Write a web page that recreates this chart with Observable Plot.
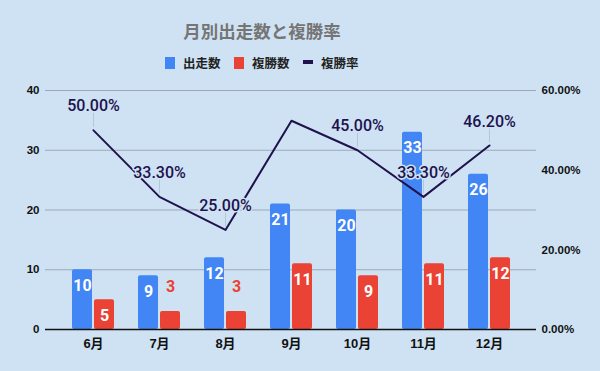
<!DOCTYPE html>
<html><head><meta charset="utf-8">
<script src="https://cdn.jsdelivr.net/npm/d3@7"></script>
<script src="https://cdn.jsdelivr.net/npm/@observablehq/plot@0.6"></script>
<style>
html,body{margin:0;padding:0;background:#cfe2f3;}
#wrap{width:600px;height:371px;background:#cfe2f3;position:relative;overflow:hidden;font-family:Roboto,"Noto Sans CJK JP",sans-serif;}
#head{position:relative;height:80px;}
#title{position:absolute;left:0;width:524px;top:19px;text-align:center;font-size:17.5px;font-weight:bold;color:#757575;font-family:"Noto Sans CJK JP",sans-serif;line-height:24px;}
.sw{position:absolute;}
.lt{position:absolute;top:54px;font-size:12.5px;font-weight:bold;color:#222;font-family:"Noto Sans CJK JP",sans-serif;line-height:18px;}
#chart{position:absolute;left:0;top:80px;}
</style></head>
<body>
<div id="wrap">
<div id="head">
<div id="title">月別出走数と複勝率</div>
<div class="sw" style="left:165px;top:57px;width:10px;height:12px;background:#4285f4"></div>
<div class="lt" style="left:183px">出走数</div>
<div class="sw" style="left:234px;top:57px;width:10px;height:12px;background:#ea4335"></div>
<div class="lt" style="left:252px">複勝数</div>
<div class="sw" style="left:303px;top:60px;width:10px;height:4px;background:#20124d"></div>
<div class="lt" style="left:321px">複勝率</div>
</div>
<div id="chart"></div>
</div>
<script>
const months = ["6月","7月","8月","9月","10月","11月","12月"];
const starts = [10, 9, 12, 21, 20, 33, 26];
const places = [5, 3, 3, 11, 9, 11, 12];
const rates = [50.0, 33.3, 25.0, 52.4, 45.0, 33.3, 46.2];
const rateLabelShown = [true, true, true, false, true, true, true];
const leftTicks = [0, 10, 20, 30, 40];
const rightTicks = [0, 20, 40, 60];

const rows = months.map((m, i) => ({month: m, starts: starts[i], places: places[i], rate: rates[i], show: rateLabelShown[i]}));
const toLeft = r => r / 60 * 40;

const font = "Roboto, 'Noto Sans CJK JP', sans-serif";
const axisFont = "'Liberation Sans', Arial, 'Noto Sans CJK JP', sans-serif";
const chart = Plot.plot({
  width: 600, height: 291,
  marginTop: 10, marginBottom: 42, marginLeft: 45, marginRight: 64,
  style: {background: "transparent", fontFamily: axisFont, overflow: "visible"},
  x: {domain: months, padding: 0.37, axis: null},
  y: {domain: [0, 40], axis: null},
  marks: [
    Plot.gridY(leftTicks.filter(d => d > 0), {stroke: "#9aa8ba", strokeOpacity: 1}),
    Plot.barY(rows, {x: "month", y: "starts", fill: "#4285f4", insetRight: 22, rx: 2}),
    Plot.barY(rows, {x: "month", y: "places", fill: "#ea4335", insetLeft: 22, rx: 2}),
    Plot.ruleY([0], {stroke: "#111", strokeWidth: 1.5}),
    Plot.text(rows, {x: "month", y: "starts", text: d => String(d.starts), dx: -11, dy: 16, fill: "white", fontSize: 16, fontWeight: "bold", fontFamily: font}),
    Plot.text(rows.filter(d => d.places >= 4), {x: "month", y: "places", text: d => String(d.places), dx: 11, dy: 16, fill: "white", fontSize: 16, fontWeight: "bold", fontFamily: font}),
    Plot.text(rows.filter(d => d.places < 4), {x: "month", y: "places", text: d => String(d.places), dx: 11, dy: -25, fill: "#ea4335", fontSize: 16, fontWeight: "bold", fontFamily: font}),
    Plot.line(rows, {x: "month", y: d => toLeft(d.rate), stroke: "#20124d", strokeWidth: 2}),
    Plot.ruleX(rows.filter(d => d.show), {x: "month", y1: d => toLeft(d.rate), y2: d => toLeft(d.rate), insetTop: -17, insetBottom: 3, stroke: "#b3c6da", strokeWidth: 1}),
    Plot.text(rows.filter(d => d.show), {x: "month", y: d => toLeft(d.rate), text: d => d.rate.toFixed(2) + "%", dy: -24, fill: "#20124d", stroke: "#cfe2f3", strokeWidth: 3, paintOrder: "stroke", fontSize: 16, fontWeight: 500, fontFamily: font}),
    Plot.axisY({anchor: "left", ticks: leftTicks, tickSize: 0, tickPadding: 6, fontSize: 11.5, fontWeight: "bold", fill: "#111", label: null}),
    Plot.axisY({anchor: "right", ticks: rightTicks.map(toLeft), tickSize: 0, tickPadding: 5, fontSize: 11.5, fontWeight: "bold", fill: "#111", label: null, tickFormat: d => (d / 40 * 60).toFixed(2) + "%"}),
    Plot.axisX({tickSize: 0, tickPadding: 9, fontSize: 13, fontWeight: "bold", fill: "#111", label: null, fontFamily: axisFont})
  ]
});
document.getElementById("chart").appendChild(chart);
</script>
</body></html>
